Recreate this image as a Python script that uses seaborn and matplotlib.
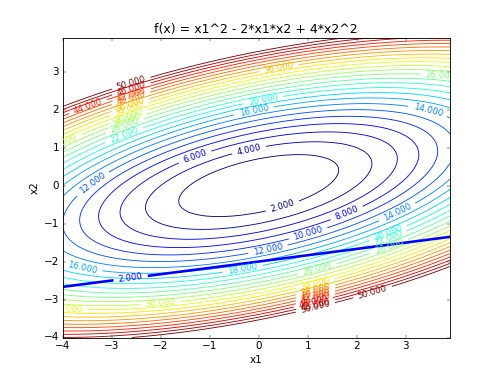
import numpy as np
import matplotlib
matplotlib.use("Agg")
import matplotlib.pyplot as plt
import seaborn as sns

# --- data ---------------------------------------------------------------
title = "f(x) = x1^2 - 2*x1*x2 + 4*x2^2"
x_start, x_stop, x_step = -4.0, 4.0, 0.1          # grid used for both axes
coef_x1x1, coef_x1x2, coef_x2x2 = 1.0, -2.0, 4.0   # quadratic form in the title
levels = [2, 4, 6, 8, 10, 12, 14, 16, 18, 20, 22, 24, 26,
          28, 30, 32, 34, 36, 38, 40, 42, 44, 46, 48, 50]
# constraint line g(x) = x1/6 - x2, drawn at level 2
g_coef_x1, g_coef_x2 = 1.0 / 6.0, -1.0
g_levels = [2]
x_label, y_label = "x1", "x2"
tick_values = [-4, -3, -2, -1, 0, 1, 2, 3]

# --- layout: where the contour labels sit (approximate spots) ----------
label_spots = [
    (0.49, -0.57), (-0.20, 0.95), (-1.29, 0.72), (1.82, -0.80),
    (1.02, -1.31), (0.18, -1.63), (-3.40, 0.08), (2.84, -0.74),
    (3.45, 2.00), (-3.59, -2.16), (-0.10, 1.98), (-0.33, -2.18),
    (0.10, 2.22), (2.65, -1.28), (2.65, -1.42), (2.65, -1.56),
    (3.71, 2.93), (1.20, -2.24), (-2.00, -3.10), (-3.90, -3.24),
    (-3.98, 1.14), (0.41, 3.11),
    (-2.75, 1.38), (-2.72, 1.54), (-2.68, 1.70), (-2.66, 1.86),
    (-2.64, 2.00), (-2.62, 2.14), (-2.60, 2.28), (-2.60, 2.42),
    (-2.60, 2.56), (-2.60, 2.70), (-3.49, 2.12),
    (1.16, -2.62), (1.16, -2.72), (1.16, -2.82), (1.16, -2.92),
    (1.16, -3.02), (1.16, -3.12), (1.16, -3.22), (1.16, -3.32),
    (2.33, -2.84),
]
line_label_spot = [(-2.61, -2.45)]

# --- figure -------------------------------------------------------------
sns.set_style("ticks")
plt.style.use("classic")
plt.rcParams["savefig.facecolor"] = "white"
plt.rcParams["figure.facecolor"] = "white"

x1 = np.arange(x_start, x_stop, x_step)
x2 = np.arange(x_start, x_stop, x_step)
X1, X2 = np.meshgrid(x1, x2)
Z = coef_x1x1 * X1**2 + coef_x1x2 * X1 * X2 + coef_x2x2 * X2**2
G = g_coef_x1 * X1 + g_coef_x2 * X2

jet = plt.get_cmap("jet")

fig, ax = plt.subplots(figsize=(8, 6), dpi=62.5)
cs = ax.contour(X1, X2, Z, levels=levels, cmap=jet, linewidths=1.0)
ax.clabel(cs, inline=True, fmt="%.3f", fontsize=10, manual=label_spots)
cg = ax.contour(X1, X2, G, levels=g_levels, colors="b", linewidths=3)
ax.clabel(cg, inline=True, fmt="%.3f", fontsize=10, manual=line_label_spot)

ax.set_xlim(x1.min(), x1.max())
ax.set_ylim(x2.min(), x2.max())
ax.set_xticks(tick_values)
ax.set_yticks(tick_values)
ax.set_title(title)
ax.set_xlabel(x_label)
ax.set_ylabel(y_label)

fig.savefig("out.png", dpi=62.5)
